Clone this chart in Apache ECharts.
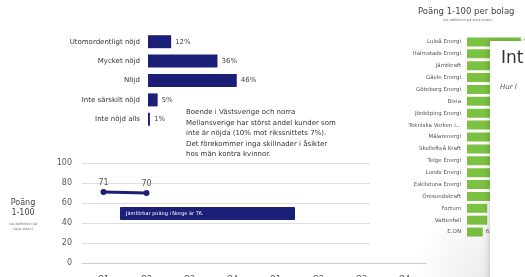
<!DOCTYPE html>
<html>
<head>
<meta charset="utf-8">
<script src="https://cdn.jsdelivr.net/npm/echarts@6/dist/echarts.min.js"></script>
<style>
	html, body { margin: 0; padding: 0; background: #fff; }
	#chart { width: 525px; height: 277px; }
</style>
</head>
<body>
<div id="chart"></div>
<script>
	// nöjdhet (%)
	var satisfactionCats = ['Utomordentligt nöjd', 'Mycket nöjd', 'Nöjd', 'Inte särskilt nöjd', 'Inte nöjd alls']
	var satisfactionValues = [12, 36, 46, 5, 1]

	// poäng per kvartal
	var quarterCats = ['Q1', 'Q2', 'Q3', 'Q4', 'Q1', 'Q2', 'Q3', 'Q4']
	var scoreValues = [71, 70]
	var scoreTicks = [0, 20, 40, 60, 80, 100]

	// poäng per bolag
	var companyCats = ['Luleå Energi', 'Halmstads Energi', 'Jämtkraft', 'Gävle Energi', 'Göteborg Energi', 'Bixia',
		'Jönköping Energi', 'Tekniska Verken i...', 'Mälarenergi', 'Skellefteå Kraft', 'Telge Energi', 'Lunds Energi',
		'Eskilstuna Energi', 'Öresundskraft', 'Fortum', 'Vattenfall', 'E.ON']
	var companyValues = [79, 77, 76, 76, 75, 75, 74, 74, 73, 73, 72, 72, 71, 71, 64, 64, 62]

	var navy = '#1b1f78'
	var green = '#7cc242'
	var font = 'DejaVu Sans'

	var dom = echarts.init(document.getElementById('chart'))

	var option = {
		backgroundColor: '#fff',
		animation: false,
		textStyle: { fontFamily: font },
		grid: [
			{ left: 148, top: 32, width: 193, height: 97, outerBoundsMode: 'none' },
			{ left: 82, top: 163, width: 344, height: 100, outerBoundsMode: 'none' },
			// bara för stödlinjerna, som är kortare än axeln
			{ left: 82, top: 163, width: 288, height: 100, outerBoundsMode: 'none' },
			{ left: 467, top: 36, width: 101, height: 202, outerBoundsMode: 'none' }
		],
		xAxis: [
			{ gridIndex: 0, type: 'value', min: 0, max: 100, show: false },
			{
				gridIndex: 1,
				type: 'category',
				data: quarterCats,
				axisLine: { lineStyle: { color: '#cfcfcf' } },
				axisTick: { length: 3, lineStyle: { color: '#cfcfcf' } },
				axisLabel: { color: '#555', fontSize: 8, margin: 13 },
				splitLine: { show: false }
			},
			{ gridIndex: 2, type: 'value', show: false },
			{ gridIndex: 3, type: 'value', min: 55, max: 100, show: false }
		],
		yAxis: [
			{
				gridIndex: 0,
				type: 'category',
				inverse: true,
				data: satisfactionCats,
				axisLine: { show: false },
				axisTick: { show: false },
				axisLabel: { color: '#333', fontSize: 7, margin: 8 }
			},
			{
				gridIndex: 1,
				type: 'value',
				min: 0,
				max: 100,
				interval: 20,
				axisLine: { show: false },
				axisTick: { show: false },
				splitLine: { show: false },
				axisLabel: {
					color: '#555',
					fontSize: 8,
					margin: 10,
					formatter: function (v) { return scoreTicks.indexOf(v) > -1 ? v : '' }
				}
			},
			{
				gridIndex: 2,
				type: 'value',
				min: 0,
				max: 100,
				interval: 20,
				axisLine: { show: false },
				axisTick: { show: false },
				axisLabel: { show: false },
				splitLine: { lineStyle: { color: '#dedede' } }
			},
			{
				gridIndex: 3,
				type: 'category',
				inverse: true,
				data: companyCats,
				axisLine: { show: false },
				axisTick: { show: false },
				axisLabel: { color: '#555', fontSize: 5.5, margin: 6 }
			}
		],
		series: [
			{
				type: 'bar',
				xAxisIndex: 0,
				yAxisIndex: 0,
				data: satisfactionValues,
				barWidth: 13,
				itemStyle: { color: navy },
				label: {
					show: true,
					position: 'right',
					distance: 4,
					color: '#444',
					fontSize: 7,
					formatter: '{c}%'
				}
			},
			{
				type: 'line',
				xAxisIndex: 1,
				yAxisIndex: 1,
				data: scoreValues,
				symbol: 'circle',
				symbolSize: 6,
				lineStyle: { color: navy, width: 3 },
				itemStyle: { color: navy },
				label: { show: true, position: 'top', distance: 2, color: '#555', fontSize: 8 }
			},
			{
				type: 'bar',
				xAxisIndex: 3,
				yAxisIndex: 3,
				data: companyValues,
				barWidth: 9,
				itemStyle: { color: green },
				label: { show: true, position: 'right', distance: 3, color: '#555', fontSize: 5.5 }
			}
		],
		graphic: [
			{
				type: 'text',
				left: 186,
				top: 107,
				style: {
					text: 'Boende i Västsverige och norra\nMellansverige har störst andel kunder som\ninte är nöjda (10% mot rikssnittets 7%).\nDet förekommer inga skillnader i åsikter\nhos män kontra kvinnor.',
					font: '7px "DejaVu Sans"',
					lineHeight: 10.5,
					fill: '#333'
				}
			},
			{
				type: 'text',
				x: 23,
				y: 198,
				style: { text: 'Poäng\n1-100', font: '8px "DejaVu Sans"', lineHeight: 10, fill: '#444', align: 'center' }
			},
			{
				type: 'text',
				x: 23,
				y: 222,
				style: { text: '(se definition på\nsista sidan)', font: '3.5px "DejaVu Sans"', lineHeight: 4.5, fill: '#777', align: 'center' }
			},
			// jämförelse med Norge
			{
				type: 'group',
				left: 120,
				top: 207,
				children: [
					{ type: 'rect', shape: { x: 0, y: 0, width: 175, height: 13, r: 1 }, style: { fill: navy } },
					{ type: 'text', x: 6, y: 4, style: { text: 'Jämförbar poäng i Norge är 76.', font: '5px "DejaVu Sans"', fill: '#fff' } }
				]
			},
			{
				type: 'text',
				left: 418,
				top: 7,
				style: { text: 'Poäng 1-100 per bolag', font: '8.5px "DejaVu Sans"', fill: '#444' }
			},
			{
				type: 'text',
				left: 443,
				top: 18,
				style: { text: '(se definition på sista sidan)', font: '3.5px "DejaVu Sans"', fill: '#777' }
			},
			// lite skugga nere till höger
			{
				type: 'rect',
				z: 99,
				shape: { x: 300, y: 200, width: 190, height: 77 },
				style: {
					fill: {
						type: 'radial', x: 1, y: 1, r: 1,
						colorStops: [{ offset: 0, color: 'rgba(0,0,0,0.08)' }, { offset: 1, color: 'rgba(0,0,0,0)' }]
					}
				}
			},
			// panelen som ligger över
			{
				type: 'rect',
				z: 100,
				shape: { x: 490, y: 41, width: 60, height: 260 },
				style: { fill: '#fff', shadowBlur: 6, shadowColor: 'rgba(0,0,0,0.2)', shadowOffsetX: -1 }
			},
			{
				type: 'text',
				z: 101,
				left: 501,
				top: 50,
				style: { text: 'Int', font: '17px "DejaVu Sans"', fill: '#333' }
			},
			{
				type: 'text',
				z: 101,
				left: 500,
				top: 84,
				style: { text: 'Hur l', font: 'italic 7px "DejaVu Sans"', fill: '#555' }
			}
		]
	}

	dom.setOption(option)
	window.addEventListener('resize', function () { dom.resize() })
</script>
</body>
</html>
